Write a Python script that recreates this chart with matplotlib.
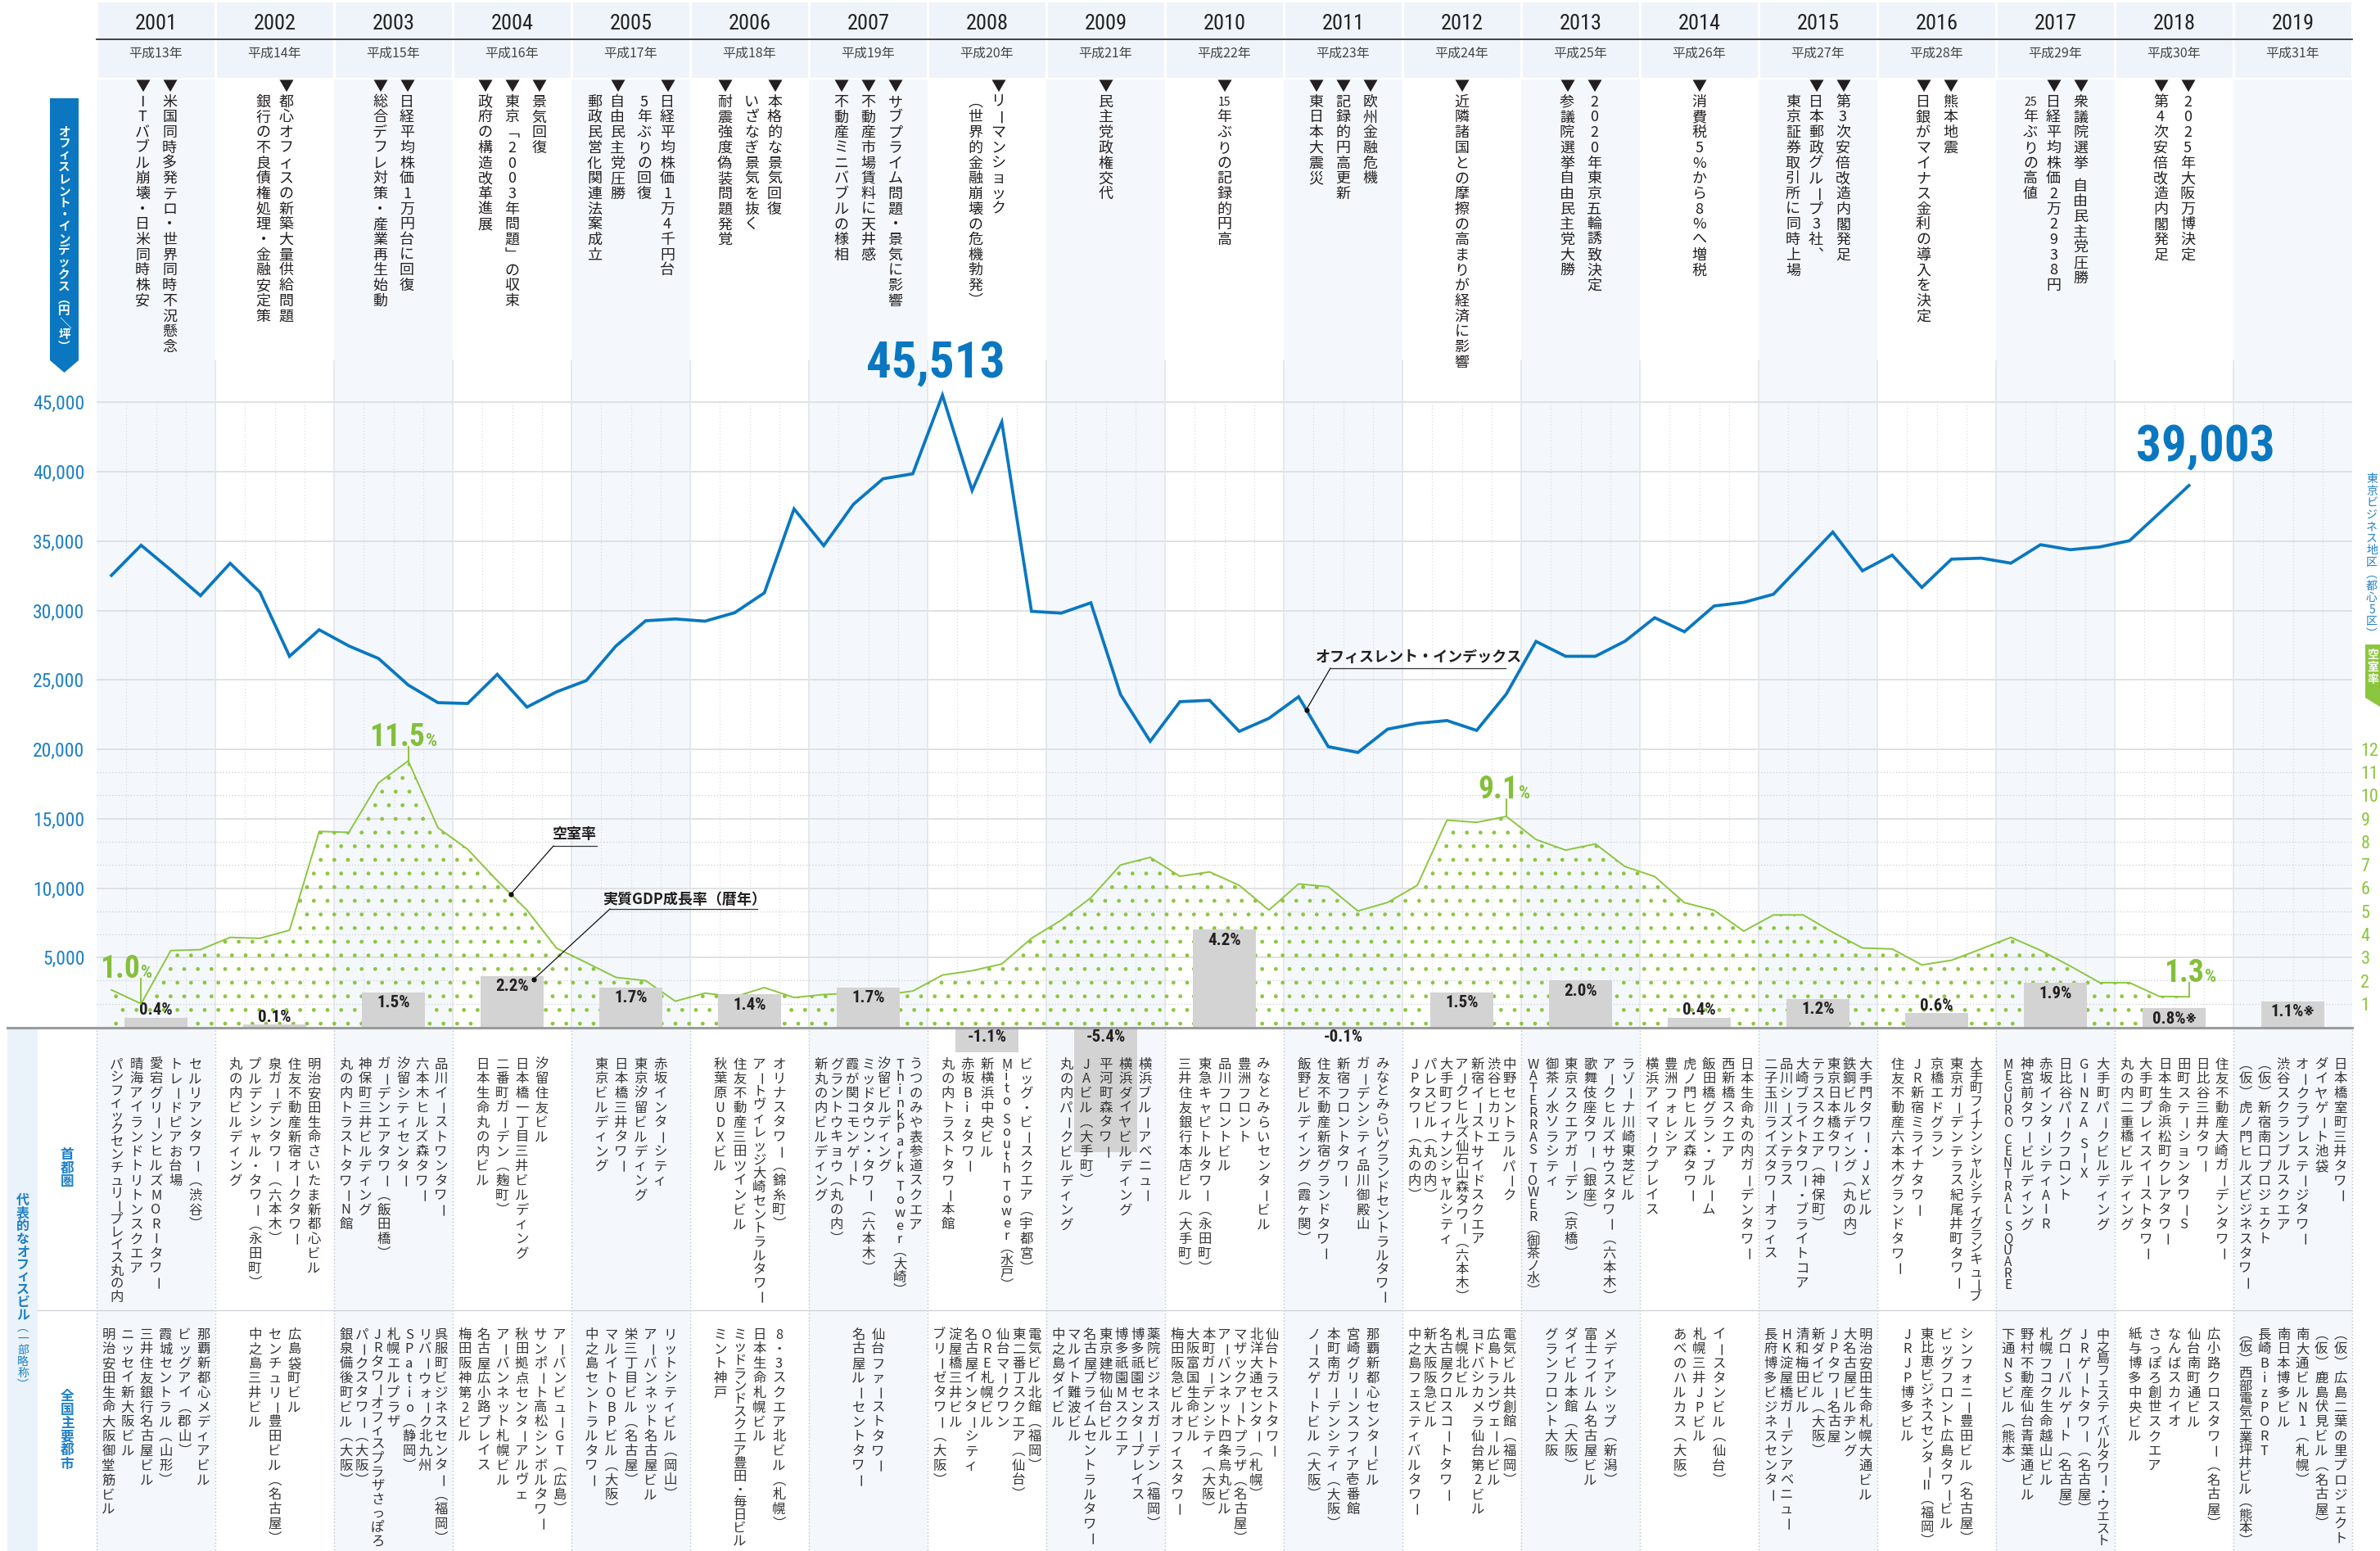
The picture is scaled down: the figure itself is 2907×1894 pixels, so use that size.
import matplotlib
matplotlib.use("Agg")
import matplotlib.pyplot as plt
from matplotlib import font_manager as fm
from matplotlib.patches import Rectangle, Polygon
import numpy as np

# ---------------- data ----------------
years = list(range(2001, 2020))
heisei = ["平成%d年" % (y - 1988) for y in years]

# office rent index (yen/tsubo), quarterly 2001Q1 .. 2018Q3
rent = [32530, 34700, 32920, 31070,
        33400, 31330, 26700, 28610,
        27445, 26540, 24630, 23360,
        23300, 25400, 23040, 24140,
        24950, 27445, 29260, 29390,
        29230, 29840, 31270, 37320,
        34670, 37650, 39490, 39850,
        45513, 38650, 43575, 29940,
        29810, 30555, 23950, 20580,
        23430, 23530, 21290, 22230,
        23785, 20190, 19770, 21450,
        21870, 22070, 21360, 23980,
        27770, 26700, 26700, 27790,
        29480, 28470, 30325, 30585,
        31170, 33410, 35650, 32860,
        33990, 31660, 33700, 33770,
        33410, 34740, 34380, 34580,
        35030, 37010, 39003]

# vacancy rate (%), quarterly 2001Q1 .. 2018Q3
vacancy = [1.6, 1.0, 3.30, 3.34,
           3.87, 3.83, 4.18, 8.45,
           8.41, 10.55, 11.5, 8.61,
           7.68, 6.32, 5.05, 3.40,
           2.78, 2.14, 2.00, 1.11,
           1.46, 1.30, 1.70, 1.27,
           1.40, 1.46, 1.38, 1.55,
           2.24, 2.43, 2.72, 3.83,
           4.61, 5.58, 7.00, 7.33,
           6.51, 6.70, 6.12, 5.05,
           6.18, 6.06, 5.01, 5.38,
           6.12, 8.94, 8.84, 9.1,
           8.10, 7.64, 7.91, 6.93,
           6.50, 5.37, 5.04, 4.14,
           4.84, 4.84, 4.09, 3.41,
           3.37, 2.68, 2.88, 3.37,
           3.87, 3.31, 2.63, 1.91,
           1.91, 1.32, 1.3]

gdp = [0.4, 0.1, 1.5, 2.2, 1.7, 1.4, 1.7, -1.1, -5.4, 4.2,
       -0.1, 1.5, 2.0, 0.4, 1.2, 0.6, 1.9, 0.8, 1.1]
gdp_labels = ["0.4%", "0.1%", "1.5%", "2.2%", "1.7%", "1.4%", "1.7%", "-1.1%", "-5.4%", "4.2%",
              "-0.1%", "1.5%", "2.0%", "0.4%", "1.2%", "0.6%", "1.9%", "0.8%※", "1.1%※"]

rent_ticks = [5000, 10000, 15000, 20000, 25000, 30000, 35000, 40000, 45000]
vac_ticks = [1, 2, 3, 4, 5, 6, 7, 8, 9, 10, 11, 12]

events = {
    2001: ["▼米国同時多発テロ・世界同時不況懸念", "▼ITバブル崩壊・日米同時株安"],
    2002: ["▼都心オフィスの新築大量供給問題", "銀行の不良債権処理・金融安定策"],
    2003: ["▼日経平均株価1万円台に回復", "▼総合デフレ対策・産業再生始動"],
    2004: ["▼景気回復", "▼東京「2003年問題」の収束", "▼政府の構造改革進展"],
    2005: ["▼日経平均株価1万4千円台", "5年ぶりの回復", "▼自由民主党圧勝", "郵政民営化関連法案成立"],
    2006: ["▼本格的な景気回復", "いざなぎ景気を抜く", "▼耐震強度偽装問題発覚"],
    2007: ["▼サブプライム問題・景気に影響", "▼不動産市場賃料に天井感", "▼不動産ミニバブルの様相"],
    2008: ["▼リーマンショック", "（世界的金融崩壊の危機勃発）"],
    2009: ["▼民主党政権交代"],
    2010: ["▼15年ぶりの記録的円高"],
    2011: ["▼欧州金融危機", "▼記録的円高更新", "▼東日本大震災"],
    2012: ["▼近隣諸国との摩擦の高まりが経済に影響"],
    2013: ["▼2020年東京五輪誘致決定", "▼参議院選挙自由民主党大勝"],
    2014: ["▼消費税5%から8%へ増税"],
    2015: ["▼第3次安倍改造内閣発足", "▼日本郵政グループ3社、", "東京証券取引所に同時上場"],
    2016: ["▼熊本地震", "▼日銀がマイナス金利の導入を決定"],
    2017: ["▼衆議院選挙 自由民主党圧勝", "▼日経平均株価2万2938円", "25年ぶりの高値"],
    2018: ["▼2025年大阪万博決定", "▼第4次安倍改造内閣発足"],
    2019: [],
}

capital = {
    2001: ["セルリアンタワー（渋谷）", "トレードピアお台場", "愛宕グリーンヒルズMORIタワー", "晴海アイランドトリトンスクエア", "パシフィックセンチュリープレイス丸の内"],
    2002: ["明治安田生命さいたま新都心ビル", "住友不動産新宿オークタワー", "泉ガーデンタワー（六本木）", "プルデンシャル・タワー（永田町）", "丸の内ビルディング"],
    2003: ["品川イーストワンタワー", "六本木ヒルズ森タワー", "汐留シティセンター", "ガーデンエアタワー（飯田橋）", "神保町三井ビルディング", "丸の内トラストタワーN館"],
    2004: ["汐留住友ビル", "日本橋一丁目三井ビルディング", "二番町ガーデン（麹町）", "日本生命丸の内ビル"],
    2005: ["赤坂インターシティ", "東京汐留ビルディング", "日本橋三井タワー", "東京ビルディング"],
    2006: ["オリナスタワー（錦糸町）", "アートヴィレッジ大崎セントラルタワー", "住友不動産三田ツインビル", "秋葉原UDXビル"],
    2007: ["うつのみや表参道スクエア", "ThinkPark Tower（大崎）", "汐留ビルディング", "ミッドタウン・タワー（六本木）", "霞が関コモンゲート", "グラントウキョウ（丸の内）", "新丸の内ビルディング"],
    2008: ["ビッグ・ビースクエア（宇都宮）", "Mito South Tower（水戸）", "新横浜中央ビル", "赤坂Bizタワー", "丸の内トラストタワー本館"],
    2009: ["横浜ブルーアベニュー", "横浜ダイヤビルディング", "平河町森タワー", "JAビル（大手町）", "丸の内パークビルディング"],
    2010: ["みなとみらいセンタービル", "豊洲フロント", "品川フロントビル", "東急キャピトルタワー（永田町）", "三井住友銀行本店ビル（大手町）"],
    2011: ["みなとみらいグランドセントラルタワー", "ガーデンシティ品川御殿山", "新宿フロントタワー", "住友不動産新宿グランドタワー", "飯野ビルディング（霞ヶ関）"],
    2012: ["中野セントラルパーク", "渋谷ヒカリエ", "新宿イーストサイドスクエア", "アークヒルズ仙石山森タワー（六本木）", "大手町フィナンシャルシティ", "パレスビル（丸の内）", "JPタワー（丸の内）"],
    2013: ["ラゾーナ川崎東芝ビル", "アークヒルズサウスタワー（六本木）", "歌舞伎座タワー（銀座）", "東京スクエアガーデン（京橋）", "御茶ノ水ソラシティ", "WATERRAS TOWER（御茶ノ水）"],
    2014: ["日本生命丸の内ガーデンタワー", "西新橋スクエア", "飯田橋グラン・ブルーム", "虎ノ門ヒルズ森タワー", "豊洲フォレシア", "横浜アイマークプレイス"],
    2015: ["大手門タワー・JXビル", "鉄鋼ビルディング（丸の内）", "東京日本橋タワー", "テラススクエア（神保町）", "大崎ブライトタワー・ブライトコア", "品川シーズンテラス", "二子玉川ライズタワーオフィス"],
    2016: ["大手町フィナンシャルシティグランキューブ", "東京ガーデンテラス紀尾井町タワー", "京橋エドグラン", "JR新宿ミライナタワー", "住友不動産六本木グランドタワー"],
    2017: ["大手町パークビルディング", "GINZA SIX", "日比谷パークフロント", "赤坂インターシティAIR", "神宮前タワービルディング", "MEGURO CENTRAL SQUARE"],
    2018: ["住友不動産大崎ガーデンタワー", "日比谷三井タワー", "田町ステーションタワーS", "日本生命浜松町クレアタワー", "大手町プレイスイーストタワー", "丸の内二重橋ビルディング"],
    2019: ["日本橋室町三井タワー", "ダイヤゲート池袋", "オークラプレステージタワー", "渋谷スクランブルスクエア", "（仮）新宿南口プロジェクト", "（仮）虎ノ門ヒルズビジネスタワー"],
}

national = {
    2001: ["那覇新都心メディアビル", "ビッグアイ（郡山）", "霞城セントラル（山形）", "三井住友銀行名古屋ビル", "ニッセイ新大阪ビル", "明治安田生命大阪御堂筋ビル"],
    2002: ["広島袋町ビル", "センチュリー豊田ビル（名古屋）", "中之島三井ビル"],
    2003: ["呉服町ビジネスセンター（福岡）", "リバーウォーク北九州", "SPatio（静岡）", "札幌エルプラザ", "JRタワーオフィスプラザさっぽろ", "パークスタワー（大阪）", "銀泉備後町ビル（大阪）"],
    2004: ["アーバンビューGT（広島）", "サンポート高松シンボルタワー", "秋田拠点センターアルヴェ", "アーバンネット札幌ビル", "名古屋広小路プレイス", "梅田阪神第2ビル"],
    2005: ["リットシティビル（岡山）", "アーバンネット名古屋ビル", "栄三丁目ビル（名古屋）", "マルイトOBPビル（大阪）", "中之島セントラルタワー"],
    2006: ["8・3スクエア北ビル（札幌）", "日本生命札幌ビル", "ミッドランドスクエア豊田・毎日ビル", "ミント神戸"],
    2007: ["仙台ファーストタワー", "名古屋ルーセントタワー"],
    2008: ["電気ビル北館（福岡）", "東二番丁スクエア（仙台）", "仙台マークワン", "ORE札幌ビル", "名古屋インターシティ", "淀屋橋三井ビル", "ブリーゼタワー（大阪）"],
    2009: ["薬院ビジネスガーデン（福岡）", "博多祇園センタープレイス", "博多祇園Mスクエア", "東京建物仙台ビル", "名古屋プライムセントラルタワー", "マルイト難波ビル", "中之島ダイビル"],
    2010: ["仙台トラストタワー", "北洋大通センター（札幌）", "マザックアートプラザ（名古屋）", "アーバンネット四条烏丸ビル", "本町ガーデンシティ（大阪）", "大阪富国生命ビル", "梅田阪急ビルオフィスタワー"],
    2011: ["那覇新都心センタービル", "宮崎グリーンスフィア壱番館", "本町南ガーデンシティ（大阪）", "ノースゲートビル（大阪）"],
    2012: ["電気ビル共創館（福岡）", "広島トランヴェールビル", "ヨドバシカメラ仙台第2ビル", "札幌北ビル", "名古屋クロスコートタワー", "新大阪阪急ビル", "中之島フェスティバルタワー"],
    2013: ["メディアシップ（新潟）", "富士フイルム名古屋ビル", "ダイビル本館（大阪）", "グランフロント大阪"],
    2014: ["イースタンビル（仙台）", "札幌三井JPビル", "あべのハルカス（大阪）"],
    2015: ["明治安田生命札幌大通ビル", "大名古屋ビルヂング", "JPタワー名古屋", "新ダイビル（大阪）", "清和梅田ビル", "HK淀屋橋ガーデンアベニュー", "長府博多ビジネスセンター"],
    2016: ["シンフォニー豊田ビル（名古屋）", "ビッグフロント広島タワービル", "東比恵ビジネスセンターⅡ（福岡）", "JRJP博多ビル"],
    2017: ["中之島フェスティバルタワー・ウエスト", "JRゲートタワー（名古屋）", "グローバルゲート（名古屋）", "札幌フコク生命越山ビル", "野村不動産仙台青葉通ビル", "下通NSビル（熊本）"],
    2018: ["広小路クロスタワー（名古屋）", "仙台南町通ビル", "なんばスカイオ", "さっぽろ創世スクエア", "紙与博多中央ビル"],
    2019: ["（仮）広島二葉の里プロジェクト", "（仮）鹿島伏見ビル（名古屋）", "南大通ビルN1（札幌）", "南日本博多ビル", "長崎BizPORT", "（仮）西部電気工業坪井ビル（熊本）"],
}

# ---------------- fonts ----------------
_names = {f.name for f in fm.fontManager.ttflist}
def pick(*cands):
    for c in cands:
        if c in _names:
            return c
    return "DejaVu Sans"
JP = pick("Noto Sans CJK JP", "Noto Sans CJK SC")
NARROW = pick("Liberation Sans Narrow", "Roboto Condensed", "Liberation Sans", "Roboto")
FAM = [JP, "DejaVu Sans"]
NFAM = [NARROW, JP, "DejaVu Sans"]
plt.rcParams["font.family"] = FAM
plt.rcParams["hatch.linewidth"] = 1.0
plt.rcParams["hatch.color"] = "#8cc63f"

BLUE = "#0a77c0"
TBLUE = "#1f80c6"
GREEN = "#8cc63f"
GREEN_T = "#84bf3b"
TXT = "#231f20"
BAND = "#f4f8fc"
HEAD = "#eff4fa"

# ---------------- layout ----------------
W, H, DPI = 2907, 1894, 100
X0, CW = 118.0, 145.0
Y0, PPK = 1254.0, 16.95
YMAX = 48000
TOP = Y0 - YMAX / 1000 * PPK
VSCALE = 20000 / 12.0

fig = plt.figure(figsize=(W / DPI, H / DPI), dpi=DPI)
fig.patch.set_facecolor("white")

bg = fig.add_axes([0, 0, 1, 1])
bg.set_xlim(0, W); bg.set_ylim(H, 0); bg.axis("off"); bg.set_zorder(0)

ax = fig.add_axes([X0 / W, 1 - Y0 / H, 19 * CW / W, (Y0 - TOP) / H])
ax.set_zorder(1); ax.patch.set_visible(False)
ax.set_xlim(years[0], years[-1] + 1); ax.set_ylim(0, YMAX)
ax2 = ax.twinx()
ax2.set_zorder(2); ax2.patch.set_visible(False)
ax2.set_ylim(0, YMAX / VSCALE)

ov = fig.add_axes([0, 0, 1, 1])
ov.set_xlim(0, W); ov.set_ylim(H, 0); ov.axis("off"); ov.set_zorder(3)
ov.patch.set_visible(False)

# ---------------- background ----------------
for i, y in enumerate(years):
    x0 = X0 + i * CW
    bg.add_patch(Rectangle((x0 + 1.5, 3), CW - 3, 92, color=HEAD, lw=0))
    if i % 2 == 0:
        bg.add_patch(Rectangle((x0, 97), CW, H - 97, color=BAND, lw=0))
    ov.text(x0 + CW / 2, 29, str(y), ha="center", va="center", fontsize=19,
            family=NFAM, color="#222222")
    ov.text(x0 + CW / 2, 65, heisei[i], ha="center", va="center", fontsize=11.5,
            color="#444444")
ov.plot([X0, X0 + 19 * CW], [48, 48], color="#333333", lw=1.3)

# bottom section
bg.add_patch(Rectangle((9, 1256), 37, H - 1256, color="#eaf2fa", lw=0))
for i in range(len(years) + 1):
    xb = X0 + i * CW
    bg.plot([xb, xb], [1258, H], color="#b9c0c7", lw=1.0, ls=(0, (1, 2)))
bg.plot([46, X0 + 19 * CW], [1600, 1600], color="#cfd4d9", lw=1.0)

# ---------------- grid ----------------
for v in rent_ticks:
    ax.axhline(v, color="#dcdfe3", lw=1.3, zorder=0)
for p in vac_ticks:
    if p % 3:
        ax2.axhline(p, color="#c9ced4", lw=0.9, ls=(0, (1, 2)), zorder=0)
for y in years[1:]:
    ax.axvline(y, color="#e2e5e9", lw=1.2, zorder=0)
for y in years:
    for q in (0.25, 0.5, 0.75):
        ax.plot([y + q, y + q], [0, 45000], color="#d3d8dd", lw=0.8,
                ls=(0, (1, 2.5)), zorder=0)

# ---------------- series ----------------
xq = [years[0] + (k + 0.5) / 4 for k in range(len(rent))]
ax.plot(xq, rent, color=BLUE, lw=2.7, zorder=5, solid_joinstyle="miter")

ax2.fill_between(xq, vacancy, 0, facecolor="none", edgecolor=GREEN, hatch=".",
                 linewidth=0, zorder=1)
ax2.plot(xq, vacancy, color=GREEN, lw=1.4, zorder=3)
xc = [y + 0.5 for y in years]
ax2.bar(xc, gdp, width=0.53, color="#d3d3d3", zorder=4, clip_on=False, lw=0)
for x, v, lab in zip(xc, gdp, gdp_labels):
    if v < 0:
        yy = -0.45
    elif v >= 0.8:
        yy = v - 0.45
    else:
        yy = v + 0.32
    ax2.text(x, yy, lab, ha="center", va="center", fontsize=15, fontweight="bold",
             family=NFAM, color=TXT, zorder=6, clip_on=False)

# axes styling
for a in (ax, ax2):
    for s in a.spines.values():
        s.set_visible(False)
    a.tick_params(axis="x", bottom=False, labelbottom=False, top=False)
ax.set_yticks(rent_ticks)
ax.set_yticklabels(["{:,}".format(v) for v in rent_ticks], family=NFAM)
ax.tick_params(axis="y", length=0, pad=10.5, labelsize=17, labelcolor=TBLUE)
ax2.set_yticks(vac_ticks)
ax2.set_yticklabels([str(v) for v in vac_ticks], family=NFAM)
ax2.tick_params(axis="y", length=0, pad=7.5, labelsize=16, labelcolor=GREEN)

ov.plot([9, X0 + 19 * CW], [Y0 + 1, Y0 + 1], color="#9b9b9b", lw=2.2)

def to_px(axis, x, y):
    px, py = axis.transData.transform((x, y))
    return px, H - py

# ---------------- vertical text ----------------
VFORM = {"（": "︵", "）": "︶", "「": "﹁", "」": "﹂", "、": "︑"}
ROT = set("ー－〜～／-")
def tokens(s):
    out, i = [], 0
    while i < len(s):
        c = s[i]
        if c.isascii() and c.isdigit():
            j = i
            while j < len(s) and s[j].isascii() and s[j].isdigit():
                j += 1
            run = s[i:j]
            if len(run) == 2:
                out.append(run)
            else:
                out.extend(list(run))
            i = j
        else:
            out.append(c)
            i += 1
    return out

def vtext(x, y, s, pitch, fs, color=TXT, weight="normal", slot=0):
    y = y + slot * pitch
    for t in tokens(s):
        if t == " ":
            y += pitch * 0.5
            continue
        rot = -90 if t in ROT else 0
        t = VFORM.get(t, t)
        f = fs * 0.78 if len(t) == 2 else fs
        ov.text(x, y, t, ha="center", va="center", rotation=rot,
                rotation_mode="anchor", fontsize=f, color=color,
                fontweight=weight, family=FAM)
        y += pitch

# events
for i, y in enumerate(years):
    lines = events[y]
    if not lines:
        continue
    offs = [0.0]
    for k in range(1, len(lines)):
        gap = 28 if not lines[k].startswith("▼") else 33
        offs.append(offs[-1] + gap)
    cx = X0 + (i + 0.5) * CW
    mid = offs[-1] / 2
    for k, s in enumerate(lines):
        x = cx + mid - offs[k]
        vtext(x, 106, s, 18.7, 13, slot=0 if s.startswith("▼") else 1)

# building lists
def buildings(data, ystart, avail):
    for i, y in enumerate(years):
        lines = data[y]
        n = len(lines)
        lp = 24.0 if n <= 5 else min(24.0, 116.0 / (n - 1))
        cx = X0 + (i + 0.5) * CW
        for k, s in enumerate(lines):
            x = cx + ((n - 1) / 2 - k) * lp
            L = len(tokens(s))
            pitch = min(17.8, avail / max(L - 1, 1))
            fs = min(11.8, pitch * 0.78)
            vtext(x, ystart, s, pitch, fs, color="#333333")

buildings(capital, 1300, 284)
buildings(national, 1630, 252)

# left labels
ov.add_patch(Polygon([(61, 120), (96, 120), (96, 440), (78.5, 455), (61, 440)],
                     closed=True, color=BLUE, lw=0))
vtext(78.5, 160, "オフィスレント・インデックス（円／坪）", 14.6, 10.5, color="white", weight="bold")
vtext(82, 1410, "首都圏", 16.5, 12, color=TBLUE, weight="bold")
vtext(82, 1705, "全国主要都市", 16.5, 12, color=TBLUE, weight="bold")
vtext(28, 1466, "代表的なオフィスビル", 15.5, 11.5, color=TBLUE, weight="bold")
vtext(28, 1466 + 10 * 15.5, "（一部略称）", 14, 10, color=TBLUE)

# right-side labels (at the figure edge, as in the source)
vtext(2897, 585, "東京ビジネス地区（都心5区）", 14.5, 10, color=TBLUE)
ov.add_patch(Polygon([(2889, 787), (2950, 787), (2950, 852), (2915, 868), (2889, 852)],
                     closed=True, color=GREEN, lw=0))
vtext(2898, 800, "空室率", 15, 10, color="white", weight="bold")

# ---------------- highlights ----------------
k_max = int(np.argmax(rent))
px, py = to_px(ax, xq[k_max], rent[k_max])
ov.text(px - 8, py - 10, "{:,}".format(rent[k_max]), ha="center", va="bottom",
        fontsize=44, fontweight="bold", family=NFAM, color=BLUE)
px, py = to_px(ax, xq[-1], rent[-1])
ov.text(px + 20, py - 18, "{:,}".format(rent[-1]), ha="center", va="bottom",
        fontsize=44, fontweight="bold", family=NFAM, color=BLUE)

green_marks = [(10, "11.5", 20, 17), (1, "1.0", -1, 31), (47, "9.1", 14, 21), (70, "1.3", 18, 17)]
for k, lab, dx, gap in green_marks:
    px, py = to_px(ax2, xq[k], vacancy[k])
    ov.plot([px, px], [py - gap, py], color=GREEN, lw=1.4)
    ov.text(px + dx, py - gap - 1, lab, ha="right", va="baseline", fontsize=27,
            fontweight="bold", family=NFAM, color=GREEN_T)
    ov.text(px + dx + 1, py - gap - 1, "%", ha="left", va="baseline", fontsize=16,
            fontweight="bold", family=NFAM, color=GREEN_T)

def leader(text, tx, ty, ul0, ul1, uly, axis, x, y):
    ov.text(tx, ty, text, ha="center", va="center", fontsize=13, fontweight="bold",
            color=TXT, family=FAM)
    ov.plot([ul0, ul1], [uly, uly], color="#333333", lw=0.9)
    px, py = to_px(axis, x, y)
    ov.plot([ul0, px], [uly, py], color="#111111", lw=0.9)
    ov.plot([px], [py], "o", color="#111111", ms=3.5)

xa = 2004.49
leader("空室率", 702, 1018, 676, 729, 1033, ax2, xa, float(np.interp(xa, xq, vacancy)))
leader("実質GDP成長率（暦年）", 836, 1098, 745, 925, 1110, ax2, 2004.68, gdp[3] - 0.15)
xr = 2011.19
leader("オフィスレント・インデックス", 1733, 802, 1625, 1839, 816, ax, xr, float(np.interp(xr, xq, rent)))

fig.savefig("out.png", dpi=DPI)
